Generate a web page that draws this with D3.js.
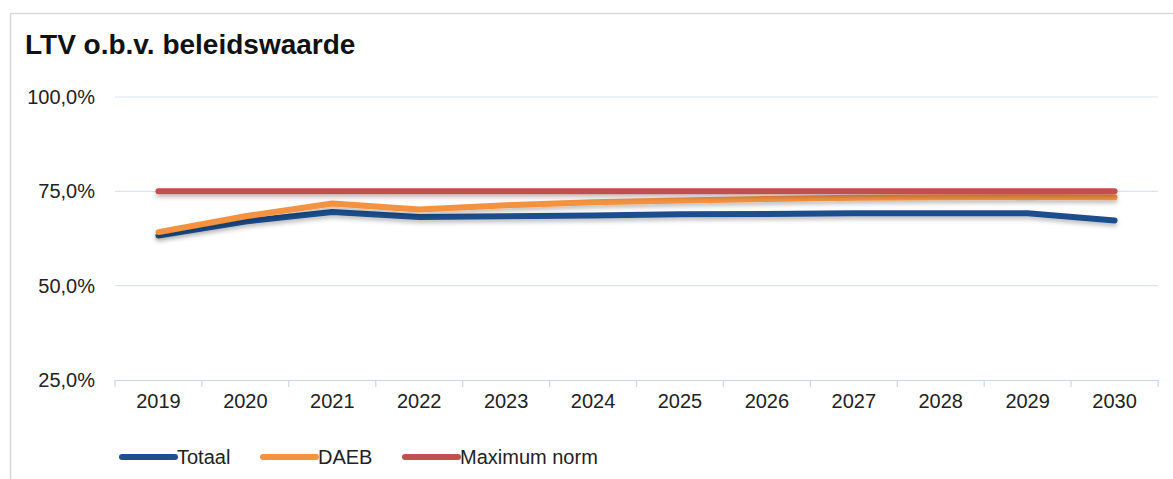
<!DOCTYPE html>
<html>
<head>
<meta charset="utf-8">
<script src="https://cdn.jsdelivr.net/npm/d3@7/dist/d3.min.js"></script>
<style>
  body { margin: 0; background: #fff; }
  text { font-family: "Liberation Sans", Arial, sans-serif; }
</style>
</head>
<body>
<div id="chart"></div>
<script>
var years = ["2019","2020","2021","2022","2023","2024","2025","2026","2027","2028","2029","2030"];
var totaal = [63.3, 67.0, 69.5, 68.2, 68.4, 68.6, 68.9, 69.0, 69.2, 69.2, 69.2, 67.3];
var daeb = [64.2, 68.4, 71.8, 70.2, 71.3, 72.1, 72.6, 73.0, 73.3, 73.4, 73.5, 73.4];
var maxNorm = [75, 75, 75, 75, 75, 75, 75, 75, 75, 75, 75, 75];
var yTicks = [25, 50, 75, 100];

var seriesNames = ["Totaal", "DAEB", "Maximum norm"];
var seriesColors = ["#1f4e8c", "#f3923f", "#c0504d"];

function draw() {
    var w = 1173;
    var h = 479;

    var svg = d3.select("#chart")
        .append("svg")
        .attr("width", w)
        .attr("height", h);

    // soft shadow like excel lines (user space so flat lines keep it)
    var defs = svg.append("defs");
    var f = defs.append("filter").attr("id", "shadow")
        .attr("filterUnits", "userSpaceOnUse")
        .attr("x", 0).attr("y", 0).attr("width", w).attr("height", h);
    f.append("feDropShadow").attr("dx", 0).attr("dy", 3).attr("stdDeviation", 2)
        .attr("flood-color", "#000").attr("flood-opacity", 0.25);

    // frame
    svg.append("rect")
        .attr("x", 10.5).attr("y", 13.5)
        .attr("width", w).attr("height", h)
        .attr("fill", "#fff")
        .attr("stroke", "#d9d9d9")
        .attr("stroke-width", 1.5);

    svg.append("text")
        .attr("x", 25).attr("y", 54)
        .attr("font-size", 28).attr("font-weight", "bold")
        .attr("fill", "#111")
        .text("LTV o.b.v. beleidswaarde");

    var x = d3.scaleBand().domain(years).range([115, 1158]);
    var y = d3.scaleLinear().domain([25, 100]).range([380, 97]);

    // gridlines
    svg.append("g").selectAll("line")
        .data(yTicks.slice(1))
        .enter().append("line")
        .attr("x1", 115).attr("x2", 1158)
        .attr("y1", function(d) { return y(d); })
        .attr("y2", function(d) { return y(d); })
        .attr("stroke", "#dbe5f1").attr("stroke-width", 1.2);

    // y labels
    svg.append("g").selectAll("text")
        .data(yTicks)
        .enter().append("text")
        .attr("x", 95)
        .attr("y", function(d) { return y(d); })
        .attr("dy", "0.35em")
        .attr("text-anchor", "end")
        .attr("font-size", 20)
        .attr("fill", "#222")
        .text(function(d) { return d3.format(".1f")(d).replace(".", ",") + "%"; });

    // x axis
    var xAxis = d3.axisBottom(x).tickSize(0).tickPadding(14);
    var gx = svg.append("g")
        .attr("transform", "translate(0," + y(25) + ")")
        .call(xAxis);
    gx.select(".domain").attr("stroke", "#c9d7ea").attr("stroke-width", 1.2);
    gx.selectAll("text").attr("font-size", 20).attr("fill", "#222")
        .attr("font-family", "Liberation Sans, Arial, sans-serif");

    var bounds = years.map(function(d) { return x(d); }).concat([x(years[years.length - 1]) + x.bandwidth()]);
    gx.selectAll(".cat-tick")
        .data(bounds)
        .enter().append("line")
        .attr("x1", function(d) { return d; }).attr("x2", function(d) { return d; })
        .attr("y1", 0).attr("y2", 7)
        .attr("stroke", "#c9d7ea").attr("stroke-width", 1.2);

    var line = d3.line()
        .x(function(d, i) { return x(years[i]) + x.bandwidth() / 2; })
        .y(function(d) { return y(d); });

    var allSeries = [totaal, daeb, maxNorm];
    svg.append("g").selectAll("path")
        .data(allSeries)
        .enter().append("path")
        .attr("d", line)
        .attr("fill", "none")
        .attr("stroke", function(d, i) { return seriesColors[i]; })
        .attr("stroke-width", 6)
        .attr("stroke-linecap", "round")
        .attr("stroke-linejoin", "round")
        .attr("filter", "url(#shadow)");

    // legend
    var legendX = [122, 263, 405];
    var lg = svg.append("g").selectAll("g")
        .data(seriesNames)
        .enter().append("g")
        .attr("transform", function(d, i) { return "translate(" + legendX[i] + ",457)"; });
    lg.append("line")
        .attr("x1", 0).attr("x2", 53)
        .attr("stroke", function(d, i) { return seriesColors[i]; })
        .attr("stroke-width", 6)
        .attr("stroke-linecap", "round");
    lg.append("text")
        .attr("x", 55).attr("dy", "0.35em")
        .attr("font-size", 20).attr("fill", "#222")
        .text(function(d) { return d; });
}

window.onload = draw;
</script>
</body>
</html>
